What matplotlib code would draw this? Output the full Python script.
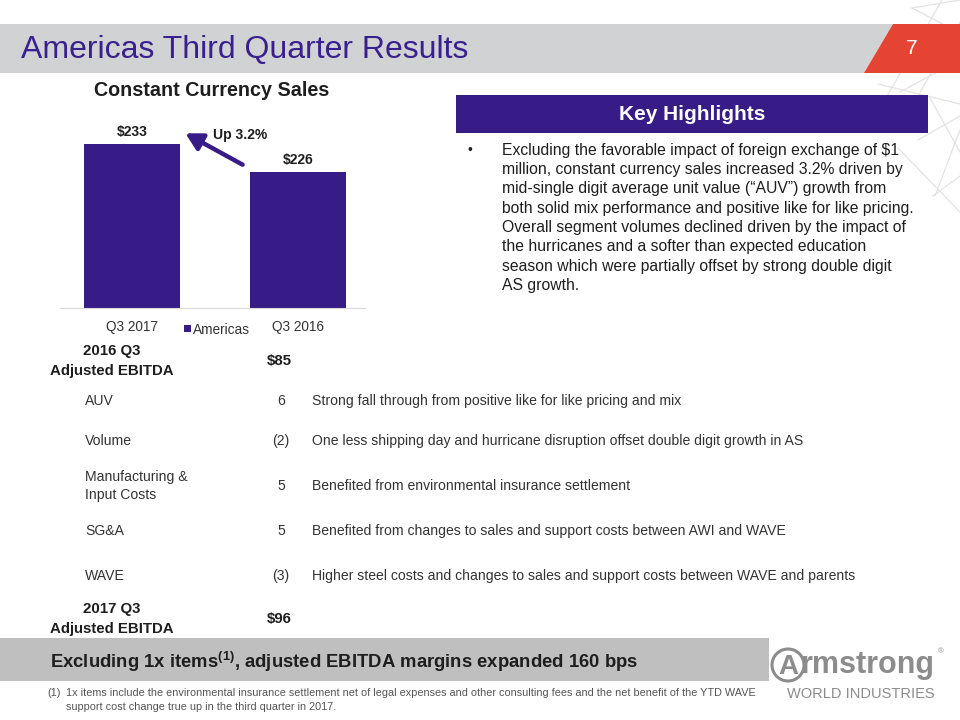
import matplotlib
matplotlib.use("Agg")
import matplotlib.pyplot as plt
from matplotlib.patches import Rectangle, Polygon, Circle

plt.rcParams['font.family'] = ['Liberation Sans', 'DejaVu Sans']

# ---------------- data ----------------
slide_title = "Americas Third Quarter Results"
page_no = "7"
chart_title = "Constant Currency Sales"
periods = ["Q3 2017", "Q3 2016"]
sales = [233, 226]
series_name = "Americas"
growth_label = "Up 3.2%"

highlight_title = "Key Highlights"
highlight_lines = [
    "Excluding the favorable impact of foreign exchange of $1",
    "million, constant currency sales increased 3.2% driven by",
    "mid-single digit average unit value (\u201cAUV\u201d) growth from",
    "both solid mix performance and positive like for like pricing.",
    "Overall segment volumes declined driven by the impact of",
    "the hurricanes and a softer than expected education",
    "season which were partially offset by strong double digit",
    "AS growth.",
]

start_label = ["2016 Q3", "Adjusted EBITDA"]
start_value = "$85"
end_label = ["2017 Q3", "Adjusted EBITDA"]
end_value = "$96"
bridge_items = ["AUV", "Volume", "Manufacturing &\nInput Costs", "SG&A", "WAVE"]
bridge_values = ["6", "(2)", "5", "5", "(3)"]
bridge_notes = [
    "Strong fall through from positive like for like pricing and mix",
    "One less shipping day and hurricane disruption offset double digit growth in AS",
    "Benefited from environmental insurance settlement",
    "Benefited from changes to sales and support costs between AWI and WAVE",
    "Higher steel costs and changes to sales and support costs between WAVE and parents",
]
banner_text = r"Excluding 1x items$^{\mathregular{(1)}}$, adjusted EBITDA margins expanded 160 bps"
footnote_lines = [
    "1x items include the environmental insurance settlement net of legal expenses and other consulting fees and the net benefit of the YTD WAVE",
    "support cost change true up in the third quarter in 2017.",
]

PURPLE = "#371C87"
TITLE_PURPLE = "#3A1F8F"
RED = "#E54333"
GRAY_BAND = "#D1D2D4"
GRAY_BAND2 = "#BFBFBF"
TXT = "#1E1E1E"
TBL = "#333333"
LOGO = "#8C8C8C"

W, H = 960, 720
fig = plt.figure(figsize=(9.6, 7.2), dpi=100)
bg = fig.add_axes([0, 0, 1, 1])
bg.set_xlim(0, W)
bg.set_ylim(H, 0)
bg.axis("off")

# decorative lattice lines top-right
deco = [((912, 8), (960, 0)), ((912, 8), (958, 32)), ((942, 0), (878, 112)),
        ((960, 22), (900, 128)), ((878, 84), (960, 104)), ((900, 92), (960, 60)),
        ((930, 98), (960, 152)), ((918, 140), (960, 116)), ((898, 148), (960, 212)),
        ((933, 196), (960, 176)), ((960, 130), (935, 196)), ((880, 30), (960, 40))]
for (x0, y0), (x1, y1) in deco:
    bg.plot([x0, x1], [y0, y1], color="#E3E3E6", lw=0.9, zorder=0)

# header band
bg.add_patch(Polygon([(0, 24), (893, 24), (864, 73), (0, 73)], closed=True,
                     facecolor=GRAY_BAND, edgecolor="none", zorder=1))
bg.add_patch(Polygon([(893, 24), (960, 24), (960, 73), (864, 73)], closed=True,
                     facecolor=RED, edgecolor="none", zorder=1))
bg.text(21, 50, slide_title, fontsize=23, color=TITLE_PURPLE, va="center", ha="left", zorder=2)
bg.text(912, 48, page_no, fontsize=15, color="white", va="center", ha="center", zorder=2)

# ---------------- bar chart ----------------
px_left, px_right, px_top, px_base = 60, 365, 100, 308
ax = fig.add_axes([px_left / W, 1 - px_base / H, (px_right - px_left) / W, (px_base - px_top) / H])
ax.patch.set_alpha(0)
x = list(range(len(periods)))
bars = ax.bar(x, sales, width=0.578, color=PURPLE, zorder=2)
ax.set_xlim(-0.434, 1.404)
ax.set_ylim(192, 244)
ax.set_yticks([])
for s in ["top", "left", "right"]:
    ax.spines[s].set_visible(False)
ax.spines["bottom"].set_color("#D9D9D9")
ax.set_xticks(x)
ax.set_xticklabels(periods, fontsize=9.8, color=TBL)
ax.tick_params(axis="x", length=0, pad=9)
for xi, v in zip(x, sales):
    ax.text(xi, v + 1.2, f"${v}", ha="center", va="bottom", fontsize=10, fontweight="bold", color=TXT)

bg.text(212, 91, chart_title, fontsize=14.2, fontweight="bold", color=TXT, ha="center", va="center")
bg.annotate("", xy=(183, 132), xytext=(245, 166),
            arrowprops=dict(arrowstyle="-|>,head_length=1.0,head_width=0.55", color=PURPLE, lw=3.2))
bg.text(213, 135, growth_label, fontsize=10, fontweight="bold", color=TXT, ha="left", va="center")
bg.add_patch(Rectangle((184, 325), 7, 7, facecolor=PURPLE, edgecolor="none"))
bg.text(193, 330, series_name, fontsize=9.8, color=TBL, ha="left", va="center")

# ---------------- key highlights ----------------
bg.add_patch(Rectangle((456, 95), 472, 38, facecolor=PURPLE, edgecolor="none"))
bg.text(692, 115, highlight_title, fontsize=15, fontweight="bold", color="white", ha="center", va="center")
bg.text(468, 150, "\u2022", fontsize=10, color=TXT, ha="left", va="center")
for i, line in enumerate(highlight_lines):
    bg.text(502, 150 + i * 19.4, line, fontsize=11.3, color=TXT, ha="left", va="center")

# ---------------- EBITDA bridge table ----------------
hdr_fs = 10.8
bg.text(112, 351, start_label[0], fontsize=hdr_fs, fontweight="bold", color=TXT, ha="center", va="center")
bg.text(112, 371, start_label[1], fontsize=hdr_fs, fontweight="bold", color=TXT, ha="center", va="center")
bg.text(279, 361, start_value, fontsize=hdr_fs, fontweight="bold", color=TXT, ha="center", va="center")
row_y = [401, 441, 486, 531, 576]
for yy, item, val, note in zip(row_y, bridge_items, bridge_values, bridge_notes):
    bg.text(85, yy, item, fontsize=10.1, color=TBL, ha="left", va="center", linespacing=1.45)
    bg.text(281, yy, val, fontsize=10.1, color=TBL, ha="center", va="center")
    bg.text(312, yy, note, fontsize=10.1, color=TBL, ha="left", va="center")
bg.text(112, 609, end_label[0], fontsize=hdr_fs, fontweight="bold", color=TXT, ha="center", va="center")
bg.text(112, 629, end_label[1], fontsize=hdr_fs, fontweight="bold", color=TXT, ha="center", va="center")
bg.text(279, 619, end_value, fontsize=hdr_fs, fontweight="bold", color=TXT, ha="center", va="center")

# ---------------- bottom banner ----------------
bg.add_patch(Rectangle((0, 638), 769, 43, facecolor=GRAY_BAND2, edgecolor="none"))
bg.text(50, 662, banner_text, fontsize=13.3, fontweight="bold", color=TXT, ha="left", va="center")
bg.text(47, 693, "(1)", fontsize=7.8, color="#555555", ha="left", va="center")
for i, line in enumerate(footnote_lines):
    bg.text(66, 693 + i * 14, line, fontsize=7.8, color="#555555", ha="left", va="center")

# logo
bg.add_patch(Circle((788, 665), 16, facecolor="none", edgecolor=LOGO, lw=2.2))
bg.text(788, 667, "A", fontsize=20, fontweight="bold", color=LOGO, ha="center", va="center")
bg.text(801, 665, "rmstrong", fontsize=22, fontweight="bold", color=LOGO, ha="left", va="center")
bg.text(938, 652, "\u00ae", fontsize=5.5, color=LOGO, ha="left", va="center")
bg.text(861, 694, "WORLD INDUSTRIES", fontsize=10.5, color=LOGO, ha="center", va="center")

fig.savefig("out.png", dpi=100)
